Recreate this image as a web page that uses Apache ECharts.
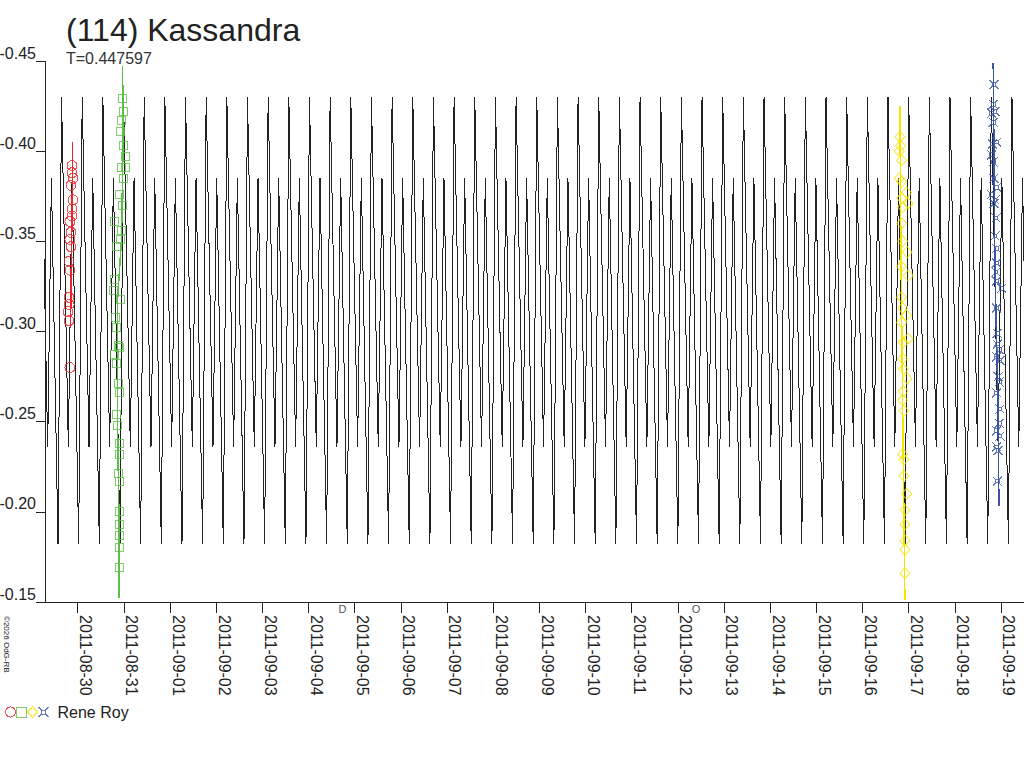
<!DOCTYPE html>
<html>
<head>
<meta charset="utf-8">
<title>(114) Kassandra</title>
<script src="https://cdn.jsdelivr.net/npm/echarts@6/dist/echarts.min.js"></script>
<style>
  html, body { margin: 0; padding: 0; background: #fff; }
  #main { width: 1024px; height: 768px; }
  /* the original plot is drawn without anti-aliasing */
  #main svg path { shape-rendering: crispEdges; }
</style>
</head>
<body>
<div id="main"></div>
<script>
// tick labels on the time axis (UTC days)
var tickDates = ['2011-08-30', '2011-08-31', '2011-09-01', '2011-09-02', '2011-09-03',
  '2011-09-04', '2011-09-05', '2011-09-06', '2011-09-07', '2011-09-08', '2011-09-09',
  '2011-09-10', '2011-09-11', '2011-09-12', '2011-09-13', '2011-09-14', '2011-09-15',
  '2011-09-16', '2011-09-17', '2011-09-18', '2011-09-19'];

// time window shown (JD)
var xStartJD = 2455802.7917;
var xEndJD = 2455824.0;

// model lightcurve: one cycle, repeated with the period
var period = 0.447597;
var modelEpochJD = 2455810.683;
var modelPhase = [0.00, 0.17, 0.50, 0.68];
var modelMag = [-0.182, -0.430, -0.236, -0.385];

// observations [JD, mag], Rene Roy, four nights
var redPts = [[2455803.377, -0.392], [2455803.377, -0.388], [2455803.398, -0.385], [2455803.355, -0.381],
  [2455803.398, -0.373], [2455803.377, -0.368], [2455803.377, -0.364], [2455803.333, -0.361],
  [2455803.355, -0.355], [2455803.333, -0.351], [2455803.355, -0.347], [2455803.312, -0.339],
  [2455803.333, -0.334], [2455803.312, -0.319], [2455803.312, -0.315], [2455803.290, -0.311],
  [2455803.312, -0.306], [2455803.333, -0.280]];
var redTrace = [[2455803.387, -0.405], [2455803.387, -0.387], [2455803.377, -0.365],
  [2455803.366, -0.345], [2455803.355, -0.323], [2455803.344, -0.302]];

var greenPts = [[2455804.475, -0.429], [2455804.488, -0.422], [2455804.453, -0.417], [2455804.431, -0.411],
  [2455804.503, -0.403], [2455804.525, -0.397], [2455804.453, -0.391], [2455804.546, -0.391],
  [2455804.503, -0.385], [2455804.416, -0.376], [2455804.466, -0.370], [2455804.308, -0.361],
  [2455804.453, -0.356], [2455804.431, -0.351], [2455804.330, -0.347], [2455804.308, -0.329],
  [2455804.286, -0.323], [2455804.431, -0.318], [2455804.323, -0.308], [2455804.330, -0.302],
  [2455804.379, -0.292], [2455804.416, -0.291], [2455804.308, -0.287], [2455804.345, -0.282],
  [2455804.379, -0.271], [2455804.401, -0.266], [2455804.345, -0.254], [2455804.358, -0.248],
  [2455804.401, -0.238], [2455804.401, -0.232], [2455804.379, -0.221], [2455804.401, -0.217],
  [2455804.416, -0.200], [2455804.401, -0.193], [2455804.401, -0.187], [2455804.401, -0.180],
  [2455804.401, -0.169]];
var greenTrace = [[2455804.475, -0.447], [2455804.481, -0.401], [2455804.449, -0.351],
  [2455804.362, -0.317], [2455804.362, -0.251], [2455804.395, -0.195], [2455804.395, -0.152]];

var yellowPts = [[2455821.312, -0.408], [2455821.327, -0.403], [2455821.297, -0.400], [2455821.349, -0.395],
  [2455821.297, -0.385], [2455821.349, -0.383], [2455821.457, -0.377], [2455821.349, -0.374],
  [2455821.492, -0.371], [2455821.371, -0.369], [2455821.349, -0.360], [2455821.371, -0.350],
  [2455821.470, -0.344], [2455821.349, -0.336], [2455821.492, -0.331], [2455821.349, -0.319],
  [2455821.371, -0.313], [2455821.457, -0.309], [2455821.349, -0.305], [2455821.492, -0.296],
  [2455821.384, -0.294], [2455821.371, -0.285], [2455821.384, -0.279], [2455821.470, -0.274],
  [2455821.384, -0.267], [2455821.371, -0.262], [2455821.399, -0.256], [2455821.371, -0.232],
  [2455821.399, -0.229], [2455821.399, -0.220], [2455821.457, -0.210], [2455821.420, -0.201],
  [2455821.420, -0.193], [2455821.420, -0.184], [2455821.420, -0.179], [2455821.420, -0.166]];
var yellowTrace = [[2455821.312, -0.425], [2455821.334, -0.345], [2455821.377, -0.245], [2455821.420, -0.151]];

var bluePts = [[2455823.348, -0.437], [2455823.333, -0.426], [2455823.299, -0.421], [2455823.370, -0.422],
  [2455823.333, -0.416], [2455823.320, -0.404], [2455823.407, -0.405], [2455823.299, -0.398],
  [2455823.333, -0.394], [2455823.348, -0.385], [2455823.407, -0.380], [2455823.299, -0.376],
  [2455823.370, -0.373], [2455823.348, -0.371], [2455823.392, -0.363], [2455823.370, -0.353],
  [2455823.407, -0.346], [2455823.407, -0.338], [2455823.392, -0.333], [2455823.407, -0.328],
  [2455823.515, -0.324], [2455823.407, -0.313], [2455823.420, -0.299], [2455823.420, -0.293],
  [2455823.463, -0.290], [2455823.407, -0.286], [2455823.479, -0.284], [2455823.441, -0.275],
  [2455823.463, -0.272], [2455823.407, -0.266], [2455823.479, -0.257], [2455823.463, -0.249],
  [2455823.407, -0.245], [2455823.479, -0.242], [2455823.407, -0.236], [2455823.441, -0.234],
  [2455823.420, -0.217]];
var blueTrace = [[2455823.333, -0.449], [2455823.370, -0.336], [2455823.435, -0.262], [2455823.457, -0.203]];

// moon phases under the axis
var moonJD = [2455809.235, 2455816.894];
var moonGlyph = ['D', 'O'];

var FONT = 'Liberation Sans, Arial, sans-serif';
var INK = '#222';

function jdToMs(jd) { return (jd - 2440587.5) * 86400000; }
function toXY(arr) { return arr.map(function (p) { return [jdToMs(p[0]), p[1]]; }); }

var tickMs = tickDates.map(function (d) { return Date.parse(d + 'T00:00:00Z'); });

var modelLine = [];
var n0 = Math.floor((xStartJD - modelEpochJD) / period) - 1;
var n1 = Math.ceil((xEndJD - modelEpochJD) / period) + 1;
for (var n = n0; n <= n1; n++) {
  for (var k = 0; k < modelPhase.length; k++) {
    modelLine.push([jdToMs(modelEpochJD + (n + modelPhase[k]) * period), modelMag[k]]);
  }
}

var starPath = 'path://M0,0L3,3M10,0L7,3M0,10L3,7M10,10L7,7M3,3L7,3L7,7L3,7Z';
var sessions = [
  { name: 'Rene Roy 1', pts: redPts, trace: redTrace, color: '#e8262a', symbol: 'circle', size: 10 },
  { name: 'Rene Roy 2', pts: greenPts, trace: greenTrace, color: '#5cbf48', symbol: 'rect', size: 8 },
  { name: 'Rene Roy 3', pts: yellowPts, trace: yellowTrace, color: '#f5e400', symbol: 'diamond', size: [10, 11] },
  { name: 'Rene Roy', pts: bluePts, trace: blueTrace, color: '#3b55a3', symbol: starPath, size: 9 }
];

var series = [{
  type: 'line', data: modelLine, showSymbol: false, sampling: null, z: 1,
  lineStyle: { color: INK, width: 1 }, silent: true
}];
sessions.forEach(function (s) {
  series.push({
    type: 'line', data: toXY(s.trace), showSymbol: false, z: 2, silent: true,
    lineStyle: { color: s.color, width: 1.5 }
  });
});
sessions.forEach(function (s) {
  series.push({
    name: s.name, type: 'scatter', data: toXY(s.pts), symbol: s.symbol, symbolSize: s.size, z: 3,
    itemStyle: { color: 'rgba(0,0,0,0)', borderColor: s.color, borderWidth: 1 }
  });
});
series.push({
  type: 'scatter', clip: false, symbolSize: 0, z: 4, silent: true,
  data: moonJD.map(function (jd) { return [jdToMs(jd), -0.15]; }),
  label: {
    show: true, position: 'bottom', distance: 1, fontSize: 11, color: INK, fontFamily: FONT,
    formatter: function (p) { return moonGlyph[p.dataIndex]; }
  }
});

var chart = echarts.init(document.getElementById('main'), null, { renderer: 'svg' });
chart.setOption({
  animation: false,
  backgroundColor: '#fff',
  title: [
    { text: '(114) Kassandra', left: 61, top: 9, padding: 5,
      textStyle: { fontSize: 32, fontWeight: 'normal', color: INK, fontFamily: FONT } },
    { text: 'T=0.447597', left: 61, top: 45, padding: 5,
      textStyle: { fontSize: 16, fontWeight: 'normal', color: '#333', fontFamily: FONT } }
  ],
  grid: { left: 45, right: 0, top: 61, bottom: 166, outerBoundsMode: 'none' },
  xAxis: {
    type: 'value', min: jdToMs(xStartJD), max: jdToMs(xEndJD),
    axisLine: { show: true, lineStyle: { color: INK, width: 1 } },
    axisTick: { show: true, length: 11, customValues: tickMs, lineStyle: { color: INK } },
    axisLabel: {
      customValues: tickMs, rotate: -90, margin: 13, fontSize: 16, color: INK, fontFamily: FONT,
      verticalAlign: 'bottom',
      formatter: function (v) { return new Date(v).toISOString().slice(0, 10); }
    },
    splitLine: { show: false }
  },
  yAxis: {
    type: 'value', inverse: true, min: -0.45, max: -0.15, interval: 0.05,
    axisLine: { show: true, lineStyle: { color: INK, width: 1 } },
    axisTick: { show: true, length: 9, lineStyle: { color: INK } },
    axisLabel: {
      margin: 9, fontSize: 16, color: INK, fontFamily: FONT, verticalAlign: 'bottom',
      formatter: function (v) { return v.toFixed(2); }
    },
    splitLine: { show: false }
  },
  legend: {
    left: 5, top: 704, padding: 0, itemWidth: 10, itemHeight: 10, itemGap: 0,
    data: sessions.map(function (s) {
      return { name: s.name, icon: s.symbol,
        itemStyle: { color: 'rgba(0,0,0,0)', borderColor: s.color, borderWidth: 1 } };
    }),
    formatter: function (name) { return name === 'Rene Roy' ? name : ''; },
    textStyle: { fontSize: 16, color: INK, fontFamily: FONT, padding: [0, 0, 0, 4] }
  },
  graphic: [{
    type: 'text', x: 2, y: 616, rotation: -Math.PI / 2,
    style: { text: '\u00a92026 OdG-RB', fontSize: 8, fill: '#111', fontFamily: FONT, verticalAlign: 'bottom' }
  }],
  series: series
});
</script>
</body>
</html>
